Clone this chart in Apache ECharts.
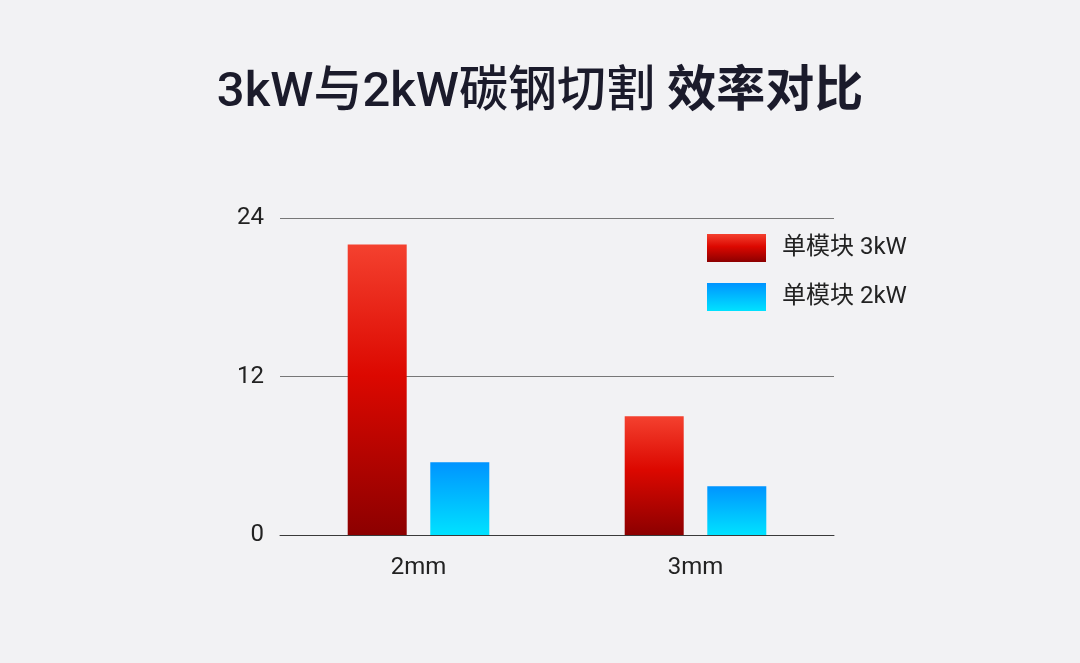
<!DOCTYPE html>
<html>
<head>
<meta charset="utf-8">
<script src="https://cdn.jsdelivr.net/npm/echarts@6/dist/echarts.min.js"></script>
<style>
html,body{margin:0;padding:0;background:#f2f2f4;}
#c{width:1080px;height:663px;}
</style>
</head>
<body>
<div id="c"></div>
<script>
const categories = ['2mm', '3mm'];
const seriesNames = ['单模块 3kW', '单模块 2kW'];
const values3kW = [22, 9];
const values2kW = [5.5, 3.7];
const yTicks = [0, 12, 24];

const font = 'Roboto, "Noto Sans CJK SC", "Noto Sans", sans-serif';
const chart = echarts.init(document.getElementById('c'));

const redGrad = new echarts.graphic.LinearGradient(0, 0, 0, 1, [
  {offset: 0, color: '#f4412f'},
  {offset: 0.45, color: '#dc0800'},
  {offset: 1, color: '#8c0000'}
]);
const blueGrad = new echarts.graphic.LinearGradient(0, 0, 0, 1, [
  {offset: 0, color: '#0094ff'},
  {offset: 1, color: '#00e2ff'}
]);

chart.setOption({
  backgroundColor: '#f2f2f4',
  textStyle: {fontFamily: font},
  title: {
    text: '{a|3kW与2kW碳钢切割 }{b|效率对比}',
    left: 'center',
    top: 64,
    textStyle: {
      rich: {
        a: {fontSize: 49, fontWeight: 500, color: '#1b1b2b', fontFamily: font},
        b: {fontSize: 49, fontWeight: 'bold', color: '#1b1b2b', fontFamily: font}
      }
    }
  },
  legend: {
    orient: 'vertical',
    left: 702,
    top: 229,
    itemWidth: 59,
    itemHeight: 28,
    itemGap: 21,
    icon: 'rect',
    data: seriesNames,
    textStyle: {fontSize: 24, color: '#222', fontFamily: font, padding: [0, 0, 0, 11]}
  },
  grid: {left: 280, right: 246, top: 218, bottom: 128},
  xAxis: {
    type: 'category',
    data: categories,
    axisLine: {lineStyle: {color: '#3a3a3a', width: 1}},
    axisTick: {show: false},
    axisLabel: {fontSize: 24, color: '#222', margin: 21, fontFamily: font}
  },
  yAxis: {
    type: 'value',
    min: yTicks[0],
    max: yTicks[yTicks.length - 1],
    interval: yTicks[1] - yTicks[0],
    axisLine: {show: false},
    axisTick: {show: false},
    axisLabel: {fontSize: 24, color: '#222', margin: 16, fontFamily: font},
    splitLine: {lineStyle: {color: '#777', width: 1}}
  },
  series: [
    {
      name: seriesNames[0],
      type: 'bar',
      data: values3kW,
      barWidth: 59,
      barGap: '40%',
      itemStyle: {color: redGrad}
    },
    {
      name: seriesNames[1],
      type: 'bar',
      data: values2kW,
      barWidth: 59,
      itemStyle: {color: blueGrad}
    }
  ]
});
</script>
</body>
</html>
